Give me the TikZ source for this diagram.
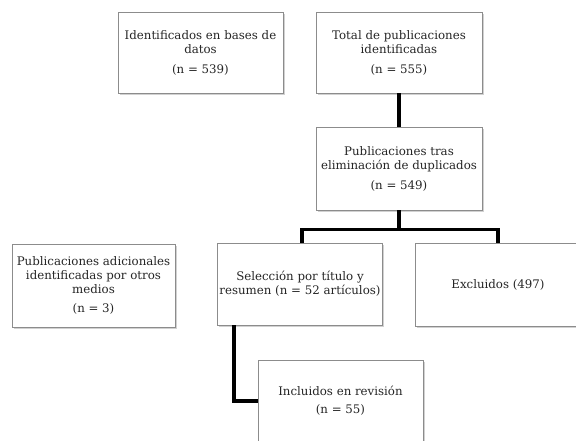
\documentclass[tikz,border=0pt]{standalone}
\usepackage{fontspec}
\setmainfont{DejaVu Serif}
\usetikzlibrary{shadows}
\begin{document}
\begin{tikzpicture}[x=1pt,y=-1pt,
  box/.style={draw=black!45, line width=0.8pt, fill=white, align=center,
    inner sep=2pt, text=black!85,
    font=\fontsize{11.8}{14}\selectfont,
    drop shadow={opacity=0.3, shadow xshift=1.5pt, shadow yshift=-1.8pt, fill=black!60}},
  link/.style={line width=3.6pt, black}]
\useasboundingbox (0,0) rectangle (576,441);
\clip (0,0) rectangle (576,441);
\node[box, minimum width=165pt, minimum height=81pt] (ident) at (200.5,52.5)
  {Identificados en bases de\\datos\\[6pt](n = 539)};
\node[box, minimum width=166pt, minimum height=81pt] (total) at (399,52.5)
  {Total de publicaciones\\identificadas\\[6pt](n = 555)};
\node[box, minimum width=166pt, minimum height=83pt] (pub) at (399,168.5)
  {Publicaciones tras\\eliminación de duplicados\\[6pt](n = 549)};
\node[box, minimum width=163pt, minimum height=83pt] (adic) at (93.5,285.5)
  {Publicaciones adicionales\\identificadas por otros\\medios\\[5pt](n = 3)};
\node[box, minimum width=164pt, minimum height=82pt] (sel) at (300,284)
  {Selección por título y\\resumen (n = 52 artículos)};
\node[box, minimum width=166pt, minimum height=83pt] (exc) at (498,284.5)
  {Excluidos (497)};
\node[box, minimum width=165pt, minimum height=82pt] (inc) at (340.5,401)
  {Incluidos en revisión\\[4pt](n = 55)};
\coordinate (j) at (399,229.5);
\draw[link] (total.south) -- (pub.north);
\draw[link] (pub.south) -- (j);
\draw[link, line join=miter] ([xshift=2pt]sel.north) |- (j) -| (exc.north);
\draw[link, line join=miter] ([xshift=17pt]sel.south west) |- (inc.west);
\end{tikzpicture}
\end{document}
